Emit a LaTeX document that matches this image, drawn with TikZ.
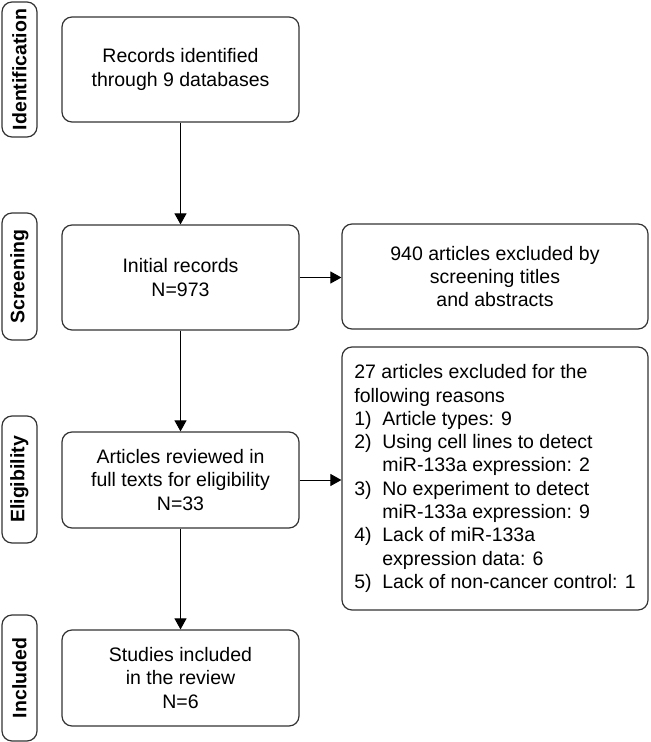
\documentclass[tikz,border=0pt]{standalone}
\usepackage{fontspec}
\setmainfont{Liberation Sans}
\usetikzlibrary{arrows.meta}

\begin{document}
\begin{tikzpicture}[x=0.5pt, y=-0.5pt,
  font=\fontsize{9.75}{11.65}\selectfont,
  box/.style={draw=black!80, line width=0.6pt, rounded corners=5pt, align=center, inner sep=3pt},
  phase/.style={box, rotate=90, font=\bfseries\fontsize{9.75}{11.65}\selectfont, minimum height=17.5pt, inner sep=1pt},
  flow/.style={-{Triangle[width=6pt,length=5.5pt]}, line width=0.5pt}]
\useasboundingbox (0,0) rectangle (651,742);
% phase labels on the left
\foreach \nm/\txt/\yc/\lh in {id/Identification/69.5/67.5pt, scr/Screening/276.5/63.5pt, eli/Eligibility/479.5/63.5pt, inc/Included/678/63pt} {
 \node[phase, minimum width=\lh] (\nm) at (19.5,\yc) {\txt};
}
% main column
\node[box, minimum width=118.5pt, minimum height=52.5pt] (rec) at (180.5,69.5) {Records identified\\through 9 databases};
\node[box, minimum width=118.5pt, minimum height=52.5pt] (init) at (180.5,277.5) {Initial records\\N=973};
\node[box, minimum width=118.5pt, minimum height=48pt] (art) at (180.5,480) {Articles reviewed in\\full texts for eligibility\\N=33};
\node[box, minimum width=118.5pt, minimum height=48pt] (stud) at (180.5,678) {Studies included\\in the review\\N=6};
% exclusions
\node[box, minimum width=153pt, minimum height=52.5pt] (scrx) at (495,276.5) {940 articles excluded by\\screening titles\\and abstracts};
\node[box, minimum width=153pt, minimum height=131.5pt, align=left] (elix) at (495,478.5) {27 articles excluded for the\\following reasons\\
 \makebox[14pt][l]{1)}Article types: 9\\
 \makebox[14pt][l]{2)}Using cell lines to detect\\
 \hspace*{14pt}miR-133a expression: 2\\
 \makebox[14pt][l]{3)}No experiment to detect\\
 \hspace*{14pt}miR-133a expression: 9\\
 \makebox[14pt][l]{4)}Lack of miR-133a\\
 \hspace*{14pt}expression data: 6\\
 \makebox[14pt][l]{5)}Lack of non-cancer control: 1};
% arrows
\draw[flow] (rec) -- (init);
\draw[flow] (init) -- (art);
\draw[flow] (art) -- (stud);
\draw[flow] (init.east) -- (init.east -| scrx.west);
\draw[flow] (art.east) -- (art.east -| elix.west);
\end{tikzpicture}
\end{document}
